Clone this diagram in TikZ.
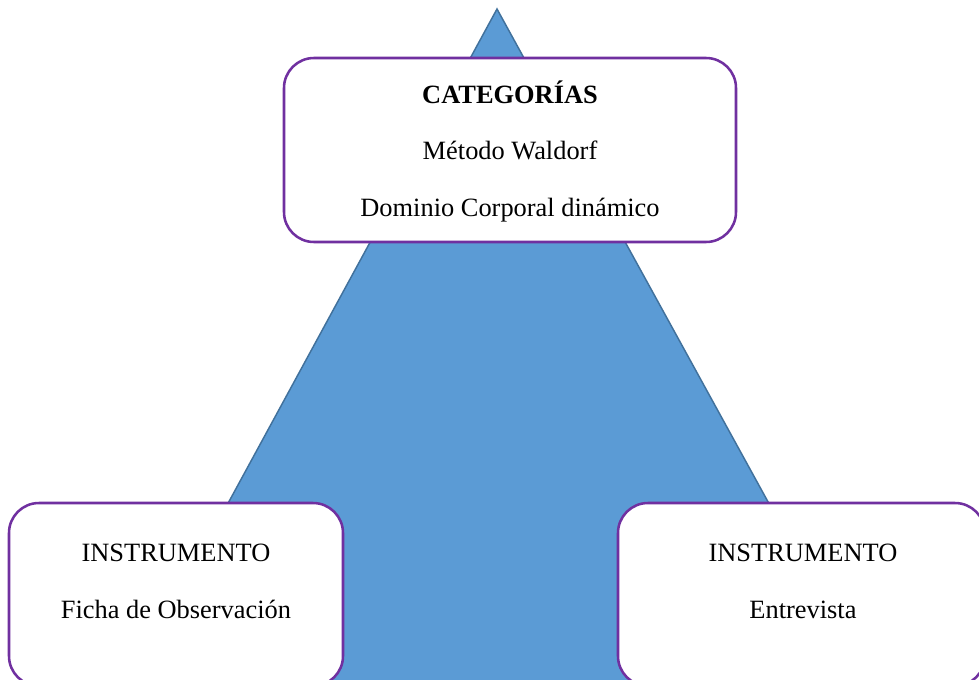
\documentclass[tikz,border=0pt]{standalone}
\usepackage{fontspec}
\setmainfont{Liberation Serif}
\usetikzlibrary{positioning}

\begin{document}
\begin{tikzpicture}[x=0.75pt,y=0.75pt,yscale=-1,xscale=1,
  infobox/.style={draw={rgb,255:red,112;green,48;blue,160},line width=1.9pt,fill=white,rounded corners=22.5pt,inner sep=0pt},
  boxtext/.style={anchor=base,inner sep=0pt,font=\fontsize{19.8}{24}\selectfont}]
\useasboundingbox (0,0) rectangle (979,679);
\clip (0,0) rectangle (979,679);

%Shape: Triangle
\draw [color={rgb, 255:red, 65; green, 113; blue, 156 },fill={rgb, 255:red, 91; green, 155; blue, 213 },line width=1.1pt] (497,9) -- (877,700) -- (121,700) -- cycle ;

%Shape: Rounded Rect (top)
\node [infobox,minimum width=452*0.75pt,minimum height=184*0.75pt] (cat) at (510,150) {};
%Shape: Rounded Rect (left)
\node [infobox,minimum width=334*0.75pt,minimum height=183*0.75pt] (instl) at (176,594.5) {};
%Shape: Rounded Rect (right)
\node [infobox,minimum width=367*0.75pt,minimum height=183*0.75pt] (instr) at (801.5,594.5) {};

% Text Node
\node [boxtext] (cattitle) at (510,103) {\textbf{CATEGORÍAS}};
% Text Node
\node [boxtext] (catone) at (510,159) {Método Waldorf};
% Text Node
\node [boxtext] (cattwo) at (510,216) {Dominio Corporal dinámico};
% Text Node
\node [boxtext] (instltitle) at (176,561) {INSTRUMENTO};
% Text Node
\node [boxtext] (ficha) at (176,618) {Ficha de Observación};
% Text Node
\node [boxtext] (instrtitle) at (803,561) {INSTRUMENTO};
% Text Node
\node [boxtext] (entrevista) at (803,618) {Entrevista};

\end{tikzpicture}
\end{document}
